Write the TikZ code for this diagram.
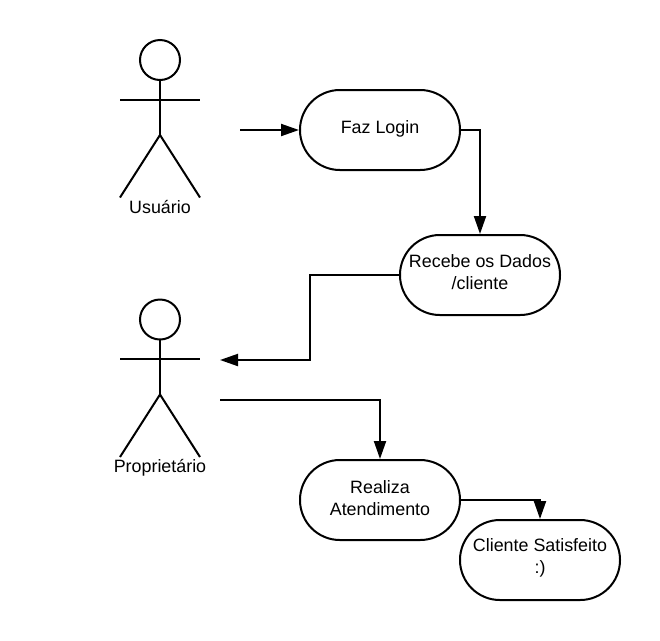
\documentclass[tikz,border=0pt]{standalone}
\usepackage{fontspec}
\setmainfont{Liberation Sans}
\usetikzlibrary{arrows.meta}
\tikzset{
  px/.style={x=0.75pt,y=-0.75pt},
  act/.style={draw=black,line width=1.5pt,rounded corners=29.9pt,minimum width=120pt,minimum height=60pt,inner sep=0pt,fill=white},
  txt/.style={align=center,font=\fontsize{13.4pt}{16.4pt}\selectfont,inner sep=0pt,text=black},
  conn/.style={draw=black,line width=1.5pt,-{Triangle[length=13.5pt,width=9pt]}},
  limb/.style={draw=black,line width=1.5pt},
  lbl/.style={font=\fontsize{13.4pt}{16.4pt}\selectfont,inner sep=0pt,text=black}
}
\newcommand{\stick}[2]{%
  \begin{scope}[shift={(#1,#2)}]
    \draw[limb] (0,0) circle (15pt);
    \draw[limb] (0,20) -- (0,75);
    \draw[limb] (-40,39.5) -- (40,39.5);
    \draw[limb] (-40,137.5) -- (0,75) -- (40,137.5);
  \end{scope}}
\begin{document}
\begin{tikzpicture}[px]
\useasboundingbox (0,0) rectangle (660,640);
\stick{160}{60}
\stick{160}{319.5}
\node[lbl] (u) at (160,207) {Usuário};
\node[lbl] (p) at (160,467.5) {Proprietário};
\node[act,label={[txt,yshift=0.7pt]center:Faz Login}] (login) at (380,130) {};
\node[act,label={[txt,yshift=2.2pt]center:Recebe os Dados\\/cliente}] (dados) at (480,275) {};
\node[act,label={[txt,yshift=1.5pt]center:Realiza\\Atendimento}] (real) at (380,500) {};
\node[act,label={[txt,yshift=1.5pt]center:Cliente Satisfeito\\:)}] (sat) at (540,560) {};
\coordinate (a1) at (240,130);
\coordinate (a2) at (220,360);
\coordinate (a3) at (220,400);
\draw[conn] (a1) -- (login.west);
\draw[conn] (login.east) -- (480,130) -- (dados.north);
\draw[conn] (dados.west) -- (310,275) -- (310,360) -- (a2);
\draw[conn] (a3) -- (380,400) -- (real.north);
\draw[conn] (real.east) -- (540,500) -- (sat.north);
\end{tikzpicture}
\end{document}
